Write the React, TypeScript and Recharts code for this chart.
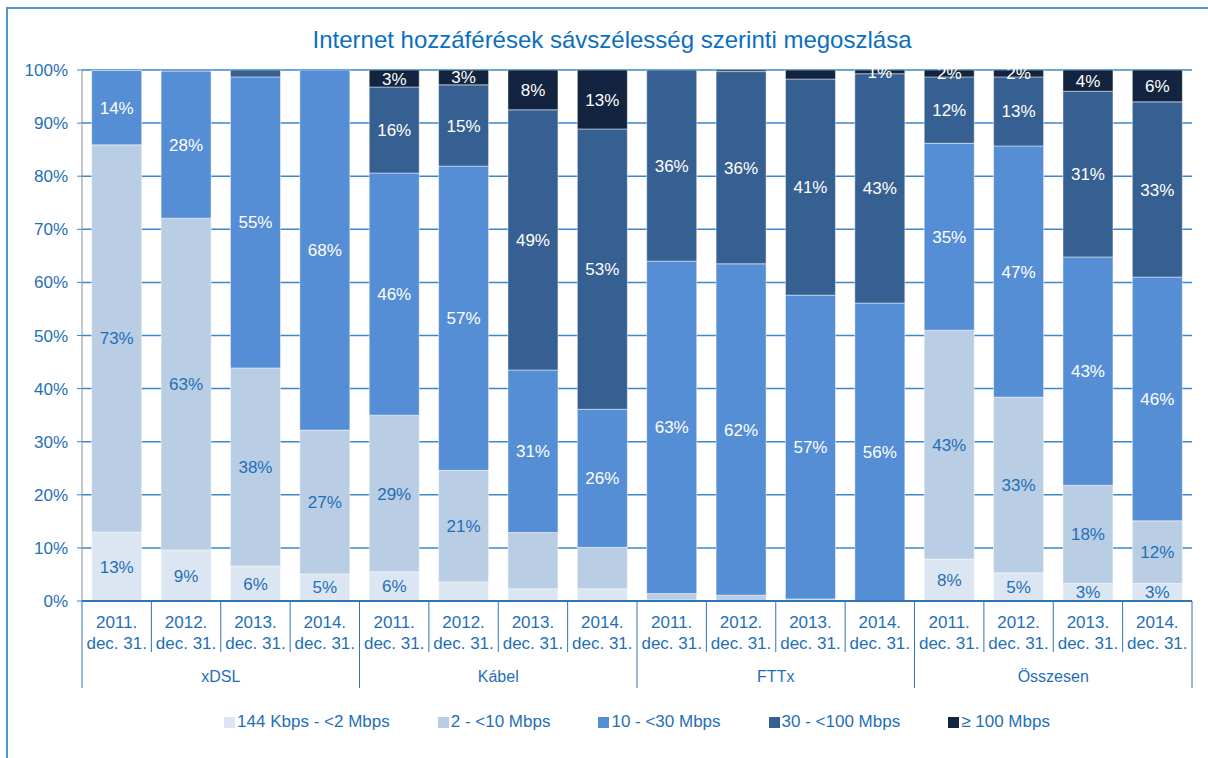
import { BarChart, Bar, XAxis, YAxis, CartesianGrid, Legend, LabelList } from "recharts";

const groups = ["xDSL", "Kábel", "FTTx", "Összesen"];
const years = ["2011.", "2012.", "2013.", "2014."];
const dayLabel = "dec. 31.";

const seriesNames = ["144 Kbps - <2 Mbps", "2 - <10 Mbps", "10 - <30 Mbps", "30 - <100 Mbps", "≥ 100 Mbps"];
const colors = ["#DCE6F2", "#B9CDE5", "#558ED5", "#376092", "#12243F"];
const labelColors = ["#1F6FB8", "#1F6FB8", "#FFFFFF", "#FFFFFF", "#FFFFFF"];

// share of connections (%), order: xDSL x4, Kábel x4, FTTx x4, Összesen x4
const s144k = [13.0, 9.6, 6.6, 5.1, 5.5, 3.6, 2.3, 2.3, 0.2, 0.1, 0.1, 0, 7.9, 5.3, 3.3, 3.3];
const s2m = [72.9, 62.5, 37.3, 27.1, 29.5, 21.0, 10.6, 7.8, 1.2, 1.0, 0.3, 0.1, 43.1, 33.1, 18.5, 11.8];
const s10m = [14.0, 27.7, 54.8, 67.8, 45.6, 57.3, 30.6, 26.0, 62.6, 62.4, 57.2, 56.0, 35.2, 47.3, 43.0, 45.9];
const s30m = [0.1, 0.2, 1.3, 0, 16.2, 15.3, 49.0, 52.8, 36.0, 36.2, 40.7, 43.2, 12.5, 13.0, 31.2, 33.0];
const s100m = [0, 0, 0, 0, 3.2, 2.8, 7.5, 11.1, 0, 0.3, 1.7, 0.7, 1.3, 1.3, 4.0, 6.0];

// data labels as printed on the chart (null = no label)
const lab144k = [13, 9, 6, 5, 6, null, null, null, null, null, null, null, 8, 5, 3, 3];
const lab2m = [73, 63, 38, 27, 29, 21, null, null, null, null, null, null, 43, 33, 18, 12];
const lab10m = [14, 28, 55, 68, 46, 57, 31, 26, 63, 62, 57, 56, 35, 47, 43, 46];
const lab30m = [null, null, null, null, 16, 15, 49, 53, 36, 36, 41, 43, 12, 13, 31, 33];
const lab100m = [null, null, null, null, 3, 3, 8, 13, null, null, null, 1, 2, 2, 4, 6];

const yTicks = [0, 10, 20, 30, 40, 50, 60, 70, 80, 90, 100];

const series = [s144k, s2m, s10m, s30m, s100m];
const labels = [lab144k, lab2m, lab10m, lab30m, lab100m];

const data = s144k.map((_, i) => {
  const row: any = { key: `${groups[Math.floor(i / 4)]} ${years[i % 4]}` };
  series.forEach((s, k) => {
    row[`s${k}`] = s[i];
    row[`l${k}`] = labels[k][i];
  });
  return row;
});

const W = 1208;
const H = 758;
const PLOT_LEFT = 82;
const PLOT_RIGHT = 1192;
const PLOT_BOTTOM = 601;
const BAND = (PLOT_RIGHT - PLOT_LEFT) / data.length;
const BLUE = "#1F6FB8";
const FONT = "'Liberation Sans', Arial, sans-serif";

const CategoryTick = (props: any) => {
  const { x, index } = props;
  const left = x - BAND / 2;
  const groupStart = index % 4 === 0;
  return (
    <g>
      <line x1={left} x2={left} y1={PLOT_BOTTOM} y2={groupStart ? 688 : 652} stroke="#2E75B6" strokeWidth={1} />
      {index === data.length - 1 && (
        <line x1={x + BAND / 2} x2={x + BAND / 2} y1={PLOT_BOTTOM} y2={688} stroke="#2E75B6" strokeWidth={1} />
      )}
      <text x={x} y={628} textAnchor="middle" fill={BLUE} fontSize={17}>
        {years[index % 4]}
      </text>
      <text x={x} y={649} textAnchor="middle" fill={BLUE} fontSize={17}>
        {dayLabel}
      </text>
      {index % 4 === 1 && (
        <text x={x + BAND / 2} y={682} textAnchor="middle" fill={BLUE} fontSize={16}>
          {groups[Math.floor(index / 4)]}
        </text>
      )}
    </g>
  );
};

const renderLegend = () => (
  <div style={{ display: "flex", justifyContent: "center", gap: 48, fontSize: 17, color: BLUE, fontFamily: FONT }}>
    {seriesNames.map((n, i) => (
      <div key={n} style={{ display: "flex", alignItems: "center" }}>
        <span style={{ display: "inline-block", width: 11, height: 11, background: colors[i], marginRight: 2 }} />
        <span>{n}</span>
      </div>
    ))}
  </div>
);

export default function App() {
  return (
    <div style={{ position: "absolute", left: 0, top: 0, width: W, height: H, background: "#fff", fontFamily: FONT, overflow: "hidden" }}>
      <div style={{ position: "absolute", left: 6, top: 7, width: W, height: H, borderLeft: "2px solid #4E97D1", borderTop: "2px solid #4E97D1" }} />
      <div style={{ position: "absolute", left: 0, top: 26, width: 1224, textAlign: "center", fontSize: 24, color: "#0B6FBF" }}>
        Internet hozzáférések sávszélesség szerinti megoszlása
      </div>
      <BarChart
        width={W}
        height={H}
        data={data}
        margin={{ top: 70, right: W - PLOT_RIGHT, bottom: 69, left: 0 }}
        barCategoryGap="14%"
      >
        <CartesianGrid vertical={false} stroke="#3A88CB" strokeWidth={1.5} />
        <YAxis
          width={PLOT_LEFT}
          domain={[0, 100]}
          ticks={yTicks}
          tickFormatter={(v: number) => `${v}%`}
          tick={{ fill: BLUE, fontSize: 17 }}
          tickSize={5}
          tickMargin={9}
          axisLine={{ stroke: "#8C8C8C" }}
          tickLine={{ stroke: "#3A88CB" }}
          allowDataOverflow
        />
        <XAxis
          dataKey="key"
          interval={0}
          height={88}
          tick={<CategoryTick />}
          tickLine={false}
          axisLine={{ stroke: "#2E75B6", strokeWidth: 2 }}
        />
        <Legend
          layout="horizontal"
          verticalAlign="middle"
          align="center"
          content={renderLegend}
          wrapperStyle={{ top: 712, left: PLOT_LEFT, width: PLOT_RIGHT - PLOT_LEFT }}
        />
        {seriesNames.map((name, k) => (
          <Bar
            key={name}
            dataKey={`s${k}`}
            name={name}
            stackId="a"
            fill={colors[k]}
            stroke="rgba(255,255,255,0.45)"
            strokeWidth={1}
            isAnimationActive={false}
          >
            <LabelList
              dataKey={`l${k}`}
              position="center"
              fill={labelColors[k]}
              fontSize={17}
              formatter={(v: any) => (v == null ? "" : `${v}%`)}
            />
          </Bar>
        ))}
      </BarChart>
    </div>
  );
}
